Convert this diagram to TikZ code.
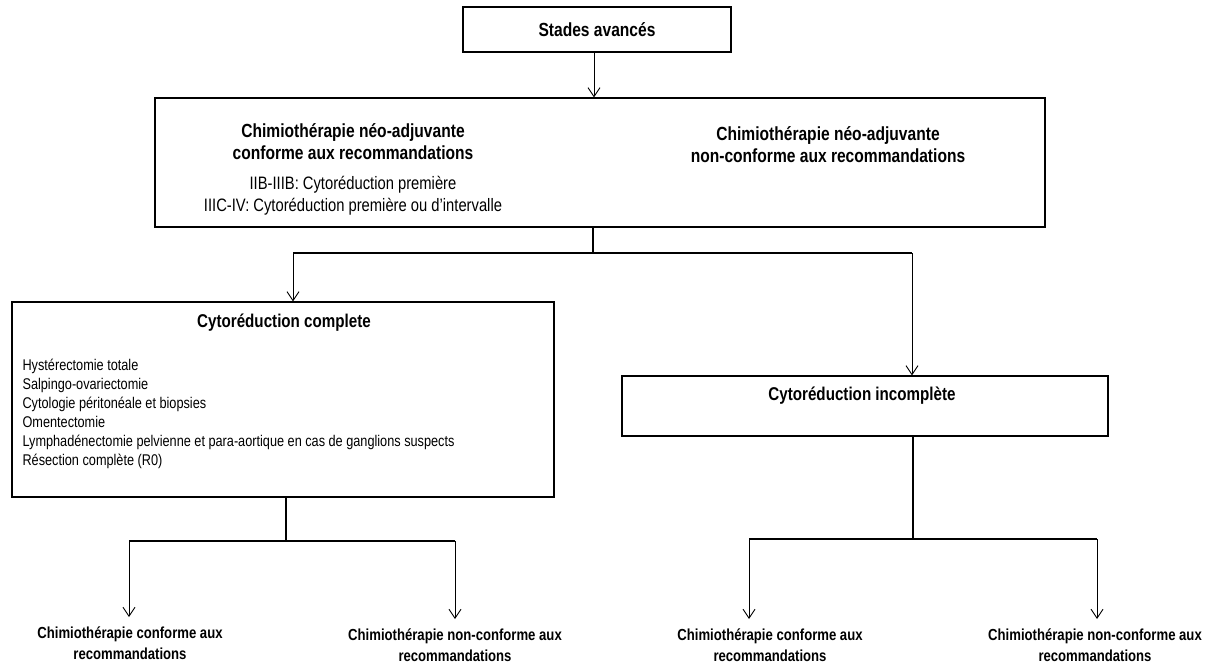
\documentclass[tikz,border=0pt]{standalone}
\usepackage{fontspec}
\setmainfont{Liberation Sans}[FakeStretch=0.82]
\usetikzlibrary{positioning, arrows.meta}

\begin{document}
\begin{tikzpicture}[x=1pt, y=-1pt, line width=1.1pt,
	box/.style={draw, rectangle, inner sep=0pt},
	titre/.style={font=\bfseries\fontsize{19}{22}\selectfont, inner sep=0pt, align=center},
	texte/.style={font=\fontsize{18}{22}\selectfont, inner sep=0pt, align=center},
	liste/.style={font=\fontsize{15.5}{19}\selectfont, inner sep=0pt, align=left},
	issue/.style={font=\bfseries\fontsize{16}{21}\selectfont, inner xsep=0pt, inner ysep=9pt, align=center},
	fleche/.style={-{Straight Barb[length=9pt,width=12pt]}, line width=0.9pt}]
		\useasboundingbox (0,0) rectangle (1217,666);
		
		\node[box, titre, minimum width=268pt, minimum height=45pt] (stades) at (597,29.5) {Stades avancés};
		
		\node[box, minimum width=890pt, minimum height=129pt] (neo) at (600,162.5) {};
		\node[titre] (neoC) at (353,142) {Chimiothérapie néo-adjuvante\\conforme aux recommandations};
		\node[titre] (neoNC) at (828,145) {Chimiothérapie néo-adjuvante\\non-conforme aux recommandations};
		\node[texte] (neoStades) at (353,196) {IIB-IIIB: Cytoréduction première\\IIIC-IV: Cytoréduction première ou d’intervalle};
		
		\node[box, minimum width=542pt, minimum height=195pt] (complete) at (283,399.5) {};
		\node[titre, font=\bfseries\fontsize{18.5}{22}\selectfont] (completeT) at (284,323) {Cytoréduction complete};
		\node[liste, anchor=north west] (gestes) at (22,359) {Hystérectomie totale\\Salpingo-ovariectomie\\Cytologie péritonéale et biopsies\\Omentectomie\\Lymphadénectomie pelvienne et para-aortique en cas de ganglions suspects\\Résection complète (R0)};
		
		\node[box, minimum width=486pt, minimum height=60pt] (incomplete) at (865,406) {};
		\node[titre, font=\bfseries\fontsize{18.5}{22}\selectfont] (incompleteT) at (862,396) {Cytoréduction incomplète};
		
		\node[issue] (cc1) at (130,643) {Chimiothérapie conforme aux\\recommandations};
		\node[issue] (cnc1) at (455,645) {Chimiothérapie non-conforme aux\\recommandations};
		\node[issue] (cc2) at (770,645) {Chimiothérapie conforme aux\\recommandations};
		\node[issue] (cnc2) at (1095,645) {Chimiothérapie non-conforme aux\\recommandations};
		
		% first level
		\draw[fleche] (stades.south -| 594,0) -- (neo.north -| 594,0);
		\coordinate (j1) at (593,253);
		\coordinate (gA) at (293,253);
		\coordinate (dA) at (912,253);
		\draw (neo.south -| j1) -- (j1);
		\draw (gA) -- (dA);
		\draw[fleche] (gA) -- (gA |- complete.north);
		\draw[fleche] (dA) -- (dA |- incomplete.north);
		
		% after complete
		\coordinate (j2) at (286,541);
		\coordinate (gB) at (129,541);
		\coordinate (dB) at (455,541);
		\draw (complete.south -| j2) -- (j2);
		\draw (gB) -- (dB);
		\draw[fleche] (gB) -- (gB |- cc1.north);
		\draw[fleche] (dB) -- (dB |- cnc1.north);
		
		% after incomplete
		\coordinate (j3) at (913,539);
		\coordinate (gC) at (749,539);
		\coordinate (dC) at (1097,539);
		\draw (incomplete.south -| j3) -- (j3);
		\draw (gC) -- (dC);
		\draw[fleche] (gC) -- (gC |- cc2.north);
		\draw[fleche] (dC) -- (dC |- cnc2.north);
		
	\end{tikzpicture}
\end{document}
